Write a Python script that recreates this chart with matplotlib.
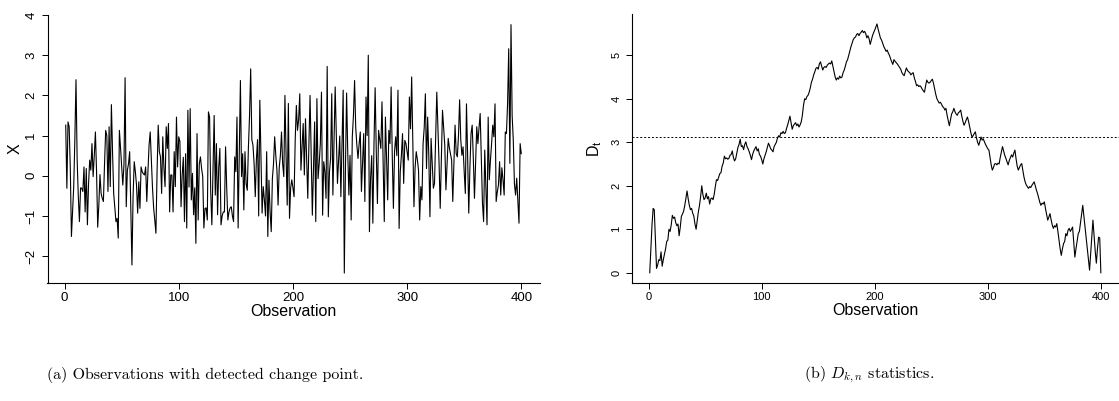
import numpy as np
import matplotlib.pyplot as plt

plt.rcParams['font.family'] = ['Liberation Sans', 'DejaVu Sans']
plt.rcParams['mathtext.fontset'] = 'cm'

# observations
x_obs = [
    1.26, -0.31, 1.34, 1.22, 0.2, -1.51, -0.9, -0.27, 0.9, 2.39, 0.4, -0.5, -1.14, -0.3, -0.31, -0.39, 0.22, -0.9, 0.18, -1.22,
    -0.2, 0.39, 0.14, 0.8, -0.02, 0.5, 1.09, 0.1, -1.28, -0.73, 0.03, -0.44, -0.56, -0.64, 0.3, 1.13, 1.0, -0.39, 1.22, -0.27,
    1.77, 0.6, -0.44, -0.8, -1.14, -1.06, -1.55, 1.13, 0.7, 0.22, -0.23, 0.26, 2.44, -0.77, 0.14, 0.3, 0.6, -0.8, -2.22, -0.5,
    0.35, 0.1, -0.23, -0.93, -0.15, -0.81, 0.22, 0.1, 0.05, 0.02, 0.22, -0.64, 0.1, 0.76, 1.09, 0.4, -0.3, -0.8, -1.1, -1.43,
    0.1, 1.26, 0.6, 0.47, -0.44, 0.97, 0.2, -0.27, 1.22, 0.68, 1.3, -0.9, 0.02, 0.02, -0.9, 0.6, -0.27, 1.46, 0.22, 0.97,
    0.85, -0.77, 0.02, 0.46, -1.14, 0.55, -1.3, 1.63, -0.28, 1.67, -0.6, 0.06, -0.97, -0.3, -1.68, 1.05, -1.1, 0.3, 0.47, 0.18,
    -0.02, -1.3, -0.81, -0.8, -1.1, 1.59, 1.46, -0.4, -1.22, 0.2, 1.5, -0.48, 0.8, -0.97, 0.2, 0.68, -1.22, -1.0, -0.9, -0.9,
    0.72, -0.3, -1.1, -0.9, -0.8, -0.77, -1.0, -1.14, 0.47, 0.1, 1.46, -1.3, 0.5, 2.37, -0.02, 0.55, -0.85, 0.6, -0.2, -0.36,
    0.7, 1.5, 2.66, 0.9, 0.76, 0.3, -0.52, 0.4, 0.9, -1.0, 1.88, 0.5, -0.93, -0.27, -0.6, -1.0, 0.6, -1.51, -0.11, -0.9,
    -1.39, -0.07, 0.3, 0.97, 0.5, 0.14, -0.73, 0.2, 0.5, 1.09, 0.3, -0.02, 2.0, 0.5, -0.73, 1.8, -1.06, -0.3, -0.1, -0.3,
    -0.52, 0.9, 1.75, 1.13, 1.4, 2.04, 0.14, 0.7, 1.3, 0.02, 1.42, 0.4, -0.56, 0.8, 2.0, 0.5, -0.98, 0.2, 1.34, -1.14,
    1.92, -0.07, 0.3, 0.8, 2.08, -0.98, 0.35, 0.1, -0.56, 2.72, -1.02, 0.1, 0.43, 2.04, -0.48, 0.9, 2.21, 1.0, -0.19, 0.4,
    0.99, -0.52, 0.8, 2.13, -2.42, 0.2, 2.06, 0.6, -0.48, 0.51, -1.1, 0.97, 1.5, 2.37, 1.2, 0.76, 0.43, 0.8, 1.09, -0.39,
    0.3, 1.05, -0.64, 1.96, 1.0, 3.0, -1.39, -0.07, 0.5, -1.18, 0.8, 2.19, 0.6, -0.69, 1.13, 0.9, 0.68, 1.84, 0.3, -1.14,
    1.46, 0.4, -0.6, 1.13, 0.8, 2.21, 0.5, -0.81, 0.6, 0.97, 0.5, 2.13, -1.31, 0.1, 0.51, 1.05, -0.19, 0.88, 0.8, 0.6,
    0.39, 1.96, 1.17, 2.46, 0.8, -0.77, 0.2, 0.6, 0.4, 0.14, -1.1, -0.27, -0.6, 0.8, 1.2, 2.04, 0.18, 1.46, 0.5, -1.02,
    0.93, 0.3, -0.31, -0.19, 1.0, 2.08, 1.2, 0.3, -0.81, 0.4, 1.63, 1.2, 0.76, -0.35, 0.3, 0.93, 0.7, 0.55, 0.39, -0.64,
    0.3, 1.26, 0.55, 0.47, 1.0, 1.89, 0.9, 0.51, 0.72, 0.1, -0.44, 1.79, 0.5, -0.93, 0.2, 1.05, 1.26, 0.43, -0.56, 0.3,
    1.22, 0.8, 1.2, 1.55, 0.4, -0.68, -1.14, 0.64, -0.3, -1.22, 1.46, -0.1, 0.39, 0.8, 1.26, 0.97, 1.79, -0.64, -0.4, -0.23,
    0.35, -0.48, 0.2, -0.1, -0.48, 1.09, 1.05, 1.8, 3.16, 0.31, 3.76, 1.5, 0.88, -0.2, -0.48, -0.06, -0.6, -1.18, 0.8, 0.55,
]

# D_t statistic
d_stat = [
    0.00, 0.55, 1.10, 1.48, 1.45, 0.75, 0.10, 0.18, 0.30, 0.28, 0.48, 0.15, 0.30, 0.42, 0.55, 0.72, 0.75, 1.00, 0.95, 1.10,
    1.32, 1.25, 1.28, 1.15, 1.08, 1.12, 0.85, 1.05, 1.30, 1.35, 1.42, 1.55, 1.72, 1.88, 1.70, 1.55, 1.45, 1.48, 1.37, 1.30,
    1.12, 1.00, 1.20, 1.40, 1.55, 1.75, 2.00, 1.80, 1.68, 1.72, 1.83, 1.70, 1.75, 1.58, 1.70, 1.72, 1.68, 1.80, 1.98, 2.14,
    2.12, 2.20, 2.28, 2.30, 2.45, 2.52, 2.68, 2.62, 2.64, 2.61, 2.63, 2.70, 2.72, 2.80, 2.65, 2.57, 2.62, 2.75, 2.88, 2.95,
    3.07, 2.90, 2.92, 2.83, 2.95, 3.01, 2.90, 2.85, 2.78, 2.70, 2.60, 2.72, 2.80, 2.85, 2.90, 2.80, 2.85, 2.72, 2.68, 2.60,
    2.50, 2.62, 2.70, 2.78, 2.88, 2.98, 2.92, 2.85, 2.82, 2.78, 2.90, 2.95, 3.00, 3.10, 3.15, 3.12, 3.22, 3.20, 3.25, 3.20,
    3.22, 3.32, 3.40, 3.50, 3.60, 3.45, 3.30, 3.38, 3.42, 3.45, 3.38, 3.42, 3.35, 3.40, 3.47, 3.62, 3.85, 4.00, 3.98, 4.05,
    4.08, 4.15, 4.25, 4.38, 4.45, 4.55, 4.62, 4.70, 4.72, 4.68, 4.80, 4.85, 4.75, 4.66, 4.72, 4.74, 4.72, 4.77, 4.80, 4.82,
    4.80, 4.87, 4.75, 4.62, 4.50, 4.43, 4.48, 4.45, 4.52, 4.48, 4.50, 4.60, 4.66, 4.75, 4.85, 4.90, 5.00, 5.10, 5.20, 5.28,
    5.36, 5.40, 5.42, 5.48, 5.50, 5.45, 5.50, 5.53, 5.57, 5.52, 5.55, 5.50, 5.40, 5.45, 5.38, 5.25, 5.35, 5.45, 5.52, 5.58,
    5.65, 5.72, 5.60, 5.50, 5.40, 5.35, 5.28, 5.20, 5.15, 5.09, 5.12, 5.05, 5.00, 4.92, 4.85, 4.79, 4.90, 4.86, 4.83, 4.80,
    4.76, 4.72, 4.68, 4.60, 4.56, 4.53, 4.62, 4.71, 4.65, 4.62, 4.60, 4.55, 4.58, 4.60, 4.48, 4.40, 4.30, 4.32, 4.28, 4.30,
    4.27, 4.22, 4.18, 4.15, 4.30, 4.43, 4.38, 4.36, 4.38, 4.42, 4.45, 4.35, 4.22, 4.10, 4.00, 3.95, 3.90, 3.92, 3.88, 3.82,
    3.80, 3.74, 3.78, 3.62, 3.50, 3.38, 3.52, 3.65, 3.70, 3.78, 3.70, 3.65, 3.62, 3.68, 3.70, 3.74, 3.60, 3.48, 3.39, 3.45,
    3.52, 3.58, 3.48, 3.35, 3.22, 3.12, 3.15, 3.20, 3.24, 3.10, 3.00, 2.93, 3.02, 3.12, 3.05, 3.08, 3.01, 2.95, 2.90, 2.85,
    2.82, 2.65, 2.48, 2.36, 2.42, 2.50, 2.51, 2.48, 2.52, 2.50, 2.65, 2.78, 2.90, 2.80, 2.70, 2.63, 2.55, 2.48, 2.58, 2.65,
    2.71, 2.66, 2.75, 2.82, 2.62, 2.45, 2.36, 2.42, 2.48, 2.51, 2.35, 2.20, 2.09, 2.02, 1.98, 1.94, 1.98, 1.96, 2.01, 2.05,
    2.09, 2.00, 1.90, 1.82, 1.72, 1.62, 1.55, 1.60, 1.58, 1.63, 1.48, 1.35, 1.21, 1.28, 1.36, 1.22, 1.10, 1.02, 1.08, 1.05,
    1.13, 0.95, 0.75, 0.55, 0.40, 0.55, 0.67, 0.72, 0.90, 0.85, 0.98, 1.02, 0.95, 1.00, 1.05, 0.70, 0.36, 0.55, 0.72, 0.90,
    0.95, 1.15, 1.35, 1.55, 1.30, 1.05, 0.82, 0.55, 0.30, 0.06, 0.45, 0.85, 1.21, 0.85, 0.50, 0.22, 0.55, 0.82, 0.80, 0.00,
]

threshold = 3.12
obs = np.arange(1, len(x_obs) + 1)

W, H = 1119, 401
fig = plt.figure(figsize=(W / 100, H / 100), dpi=100)
ax1 = fig.add_axes([47.5 / W, 1 - 283 / H, 492 / W, 268.3 / H])
ax2 = fig.add_axes([631.7 / W, 1 - 282.7 / H, 487.2 / W, 268.7 / H])


def style_axes(ax, yticks, tick_size):
    ax.margins(0.04)
    for s in ('top', 'right'):
        ax.spines[s].set_visible(False)
    for s in ('left', 'bottom'):
        ax.spines[s].set_linewidth(0.8)
    ax.set_xticks([0, 100, 200, 300, 400])
    ax.set_yticks(yticks)
    ax.tick_params(direction='out', length=4.3, width=0.7, labelsize=tick_size)
    ax.tick_params(axis='x', pad=2.5)
    ax.tick_params(axis='y', labelrotation=90, pad=3)
    for lbl in ax.get_yticklabels():
        lbl.set_va('center')


ax1.plot(obs, x_obs, color='black', lw=0.8)
style_axes(ax1, [-2, -1, 0, 1, 2, 3, 4], 9.5)
ax1.set_xlabel('Observation', fontsize=11.5)
ax1.xaxis.set_label_coords(0.5, -28 / 268.3)
ax1.xaxis.label.set_va('center')
ax1.set_ylabel('X', fontsize=11.5)
ax1.yaxis.set_label_coords(-0.0667, 0.5)
ax1.yaxis.label.set_va('center')

ax2.plot(obs, d_stat, color='black', lw=0.8)
ax2.axhline(threshold, color='black', lw=0.7, linestyle=(0, (2, 2)))
style_axes(ax2, [0, 1, 2, 3, 4, 5], 8)
ax2.set_xlabel('Observation', fontsize=11.5)
ax2.xaxis.set_label_coords(0.5, -28 / 268.7)
ax2.xaxis.label.set_va('center')
ax2.set_ylabel(r'$\mathregular{D_t}$', fontsize=11.5)
ax2.yaxis.set_label_coords(-0.0753, 0.5)
ax2.yaxis.label.set_va('center')

fig.text(205 / W, 1 - 375 / H, '(a) Observations with detected change point.',
         ha='center', va='center', fontsize=11.5, family='cmr10')
fig.text(869 / W, 1 - 375 / H, r'(b) $D_{k,n}$ statistics.',
         ha='center', va='center', fontsize=11.5, family='cmr10')

fig.savefig('out.png', dpi=100)
